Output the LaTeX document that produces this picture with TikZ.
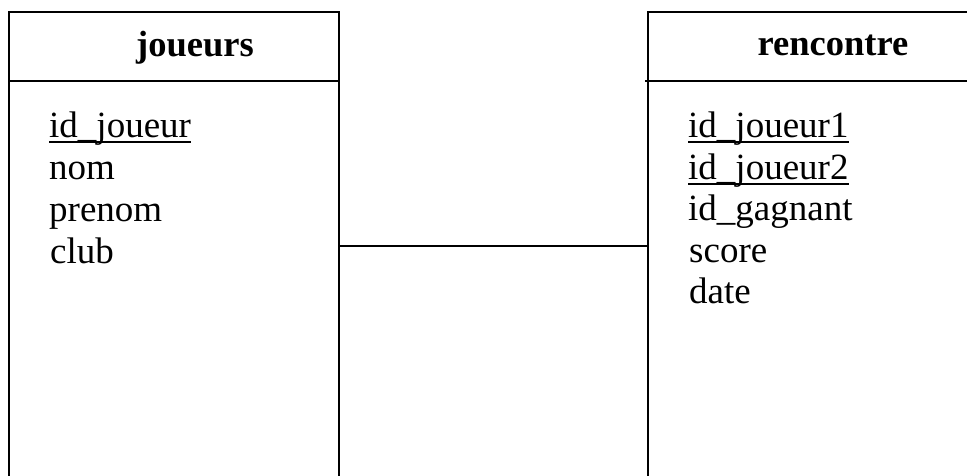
\documentclass[tikz,border=0pt]{standalone}
\usepackage{fontspec}
\setmainfont{Liberation Serif}
\begin{document}
\begin{tikzpicture}[x=1pt,y=-1pt,
  box/.style={draw=black,line width=1.6pt,anchor=north west,inner sep=0pt},
  field/.style={anchor=base west,inner sep=0pt,font=\fontsize{37}{42}\selectfont},
  title/.style={anchor=base,inner sep=0pt,font=\fontsize{36.5}{42}\selectfont\bfseries},
  line/.style={draw=black,line width=1.6pt},
  uline/.style={draw=black,line width=1.4pt}]
\useasboundingbox (0,0) rectangle (967,475);
\clip (0,0) rectangle (967,475);
% boxes
\node[box,minimum width=330pt,minimum height=500pt] (jb) at (8,11) {};
\node[box,minimum width=340pt,minimum height=500pt] (rb) at (647,11) {};
\draw[line] (8,81) -- (338,81);
\draw[line] (645,81) -- (rb.east |- 0,81);
% titles
\node[title] (tj) at (195,56) {joueurs};
\node[title] (tr) at (833,55) {rencontre};
% joueurs fields
\node[field] (f1) at (49,137) {id\_joueur};
\node[field] (f2) at (49,179) {nom};
\node[field] (f3) at (49,221) {prenom};
\node[field] (f4) at (50,263) {club};
\draw[uline] ([yshift=-5pt]f1.base west) -- ([yshift=-5pt]f1.base east);
% rencontre fields
\node[field] (g1) at (688,137) {id\_joueur1};
\node[field] (g2) at (688,179) {id\_joueur2};
\node[field] (g3) at (688,220) {id\_gagnant};
\node[field] (g4) at (689,262) {score};
\node[field] (g5) at (689,303) {date};
\draw[uline] ([yshift=-5pt]g1.base west) -- ([yshift=-5pt]g1.base east);
\draw[uline] ([yshift=-5pt]g2.base west) -- ([yshift=-5pt]g2.base east);
% connector
\coordinate (lk) at (0,246);
\draw[line] (jb.east |- lk) -- (rb.west |- lk);
\end{tikzpicture}
\end{document}
